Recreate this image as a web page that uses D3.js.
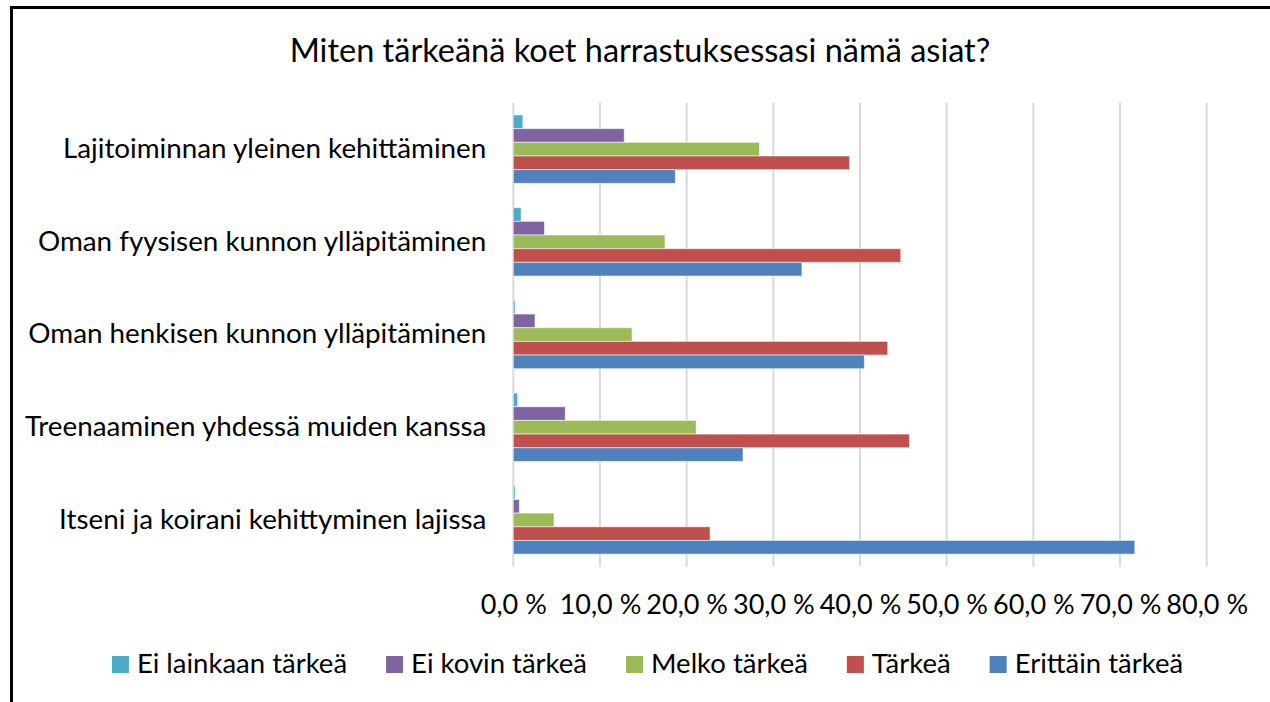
<!DOCTYPE html>
<html>
<head>
<meta charset="utf-8">
<script src="https://cdnjs.cloudflare.com/ajax/libs/d3/7.8.5/d3.min.js"></script>
<style>
  body { margin: 0; background: #fff; }
  svg text { font-family: Lato, "Open Sans", sans-serif; fill: #000; }
</style>
</head>
<body>
<div id="vis"></div>
<script>
const W = 1270, H = 702;

// categories, top to bottom
const categories = [
  "Lajitoiminnan yleinen kehittäminen",
  "Oman fyysisen kunnon ylläpitäminen",
  "Oman henkisen kunnon ylläpitäminen",
  "Treenaaminen yhdessä muiden kanssa",
  "Itseni ja koirani kehittyminen lajissa"
];

// series names (legend order) and values in %
const seriesNames = ["Ei lainkaan tärkeä", "Ei kovin tärkeä", "Melko tärkeä", "Tärkeä", "Erittäin tärkeä"];
const eiLainkaan = [1.1, 0.9, 0.2, 0.5, 0.2];
const eiKovin    = [12.8, 3.6, 2.5, 6.0, 0.7];
const melko      = [28.4, 17.5, 13.7, 21.1, 4.7];
const tarkea     = [38.8, 44.7, 43.2, 45.7, 22.7];
const erittain   = [18.7, 33.3, 40.5, 26.5, 71.7];
const xTicks = [0, 10, 20, 30, 40, 50, 60, 70, 80];

const colors = ["#4BACC6", "#8064A2", "#9BBB59", "#C0504D", "#4F81BD"];
const seriesValues = [eiLainkaan, eiKovin, melko, tarkea, erittain];

const margin = {top: 102.8, left: 513.3, right: W - 1206.7, bottom: H - 566.3};

const svg = d3.select("#vis").append("svg")
  .attr("width", W).attr("height", H);

// frame (only top and left edges visible)
svg.append("rect")
  .attr("x", 11.5).attr("y", 7.5)
  .attr("width", W + 20).attr("height", H + 20)
  .attr("fill", "none").attr("stroke", "#000").attr("stroke-width", 3);

// title
svg.append("text")
  .attr("x", 640).attr("y", 62)
  .attr("text-anchor", "middle")
  .style("font-size", "32.5px")
  .text("Miten tärkeänä koet harrastuksessasi nämä asiat?");

const x = d3.scaleLinear()
  .domain([0, 80])
  .range([margin.left, W - margin.right]);

const y = d3.scaleBand()
  .domain(categories)
  .range([margin.top, H - margin.bottom])
  .paddingInner(0.263)
  .paddingOuter(0.1315);

const ySub = d3.scaleBand()
  .domain(d3.range(seriesNames.length))
  .range([0, y.bandwidth()]);

// gridlines
svg.append("g")
  .selectAll("line")
  .data(xTicks)
  .join("line")
  .attr("x1", d => x(d)).attr("x2", d => x(d))
  .attr("y1", margin.top).attr("y2", H - margin.bottom)
  .attr("stroke", "#D9D9D9").attr("stroke-width", 2);

// bars
const groups = svg.append("g")
  .selectAll("g")
  .data(categories)
  .join("g")
  .attr("transform", d => `translate(0,${y(d)})`);

groups.selectAll("rect")
  .data((c, ci) => seriesValues.map((vals, si) => ({si: si, v: vals[ci]})))
  .join("rect")
  .attr("x", x(0))
  .attr("y", d => ySub(d.si))
  .attr("width", d => x(d.v) - x(0))
  .attr("height", ySub.bandwidth())
  .attr("fill", d => colors[d.si])
  .attr("stroke", "rgba(255,255,255,0.55)")
  .attr("stroke-width", 1);

// category labels
const yAxis = d3.axisLeft(y).tickSize(0).tickPadding(27);
svg.append("g")
  .attr("transform", `translate(${x(0)},0)`)
  .call(yAxis)
  .call(g => g.select(".domain").remove())
  .selectAll("text")
  .style("font-size", "27.8px");

// x axis labels
const xAxis = d3.axisBottom(x)
  .tickValues(xTicks)
  .tickSize(0)
  .tickPadding(0)
  .tickFormat(d => d3.format(".1f")(d).replace(".", ",") + " %");
svg.append("g")
  .attr("transform", `translate(0,${595})`)
  .call(xAxis)
  .call(g => g.select(".domain").remove())
  .selectAll("text")
  .style("font-size", "27px");

// legend
const legend = svg.append("g");
const items = legend.selectAll("g")
  .data(seriesNames)
  .join("g");
items.append("rect")
  .attr("y", 656).attr("width", 17).attr("height", 17)
  .attr("fill", (d, i) => colors[i]);
items.append("text")
  .attr("x", 25).attr("y", 673)
  .style("font-size", "27.5px")
  .text(d => d);

let pos = 0;
const widths = [];
items.each(function() {
  const w = 25 + d3.select(this).select("text").node().getComputedTextLength();
  widths.push(w);
});
const total = d3.sum(widths) + 39 * (widths.length - 1);
pos = 647.5 - total / 2;
items.each(function(d, i) {
  d3.select(this).attr("transform", `translate(${pos},0)`);
  pos += widths[i] + 39;
});
</script>
</body>
</html>
